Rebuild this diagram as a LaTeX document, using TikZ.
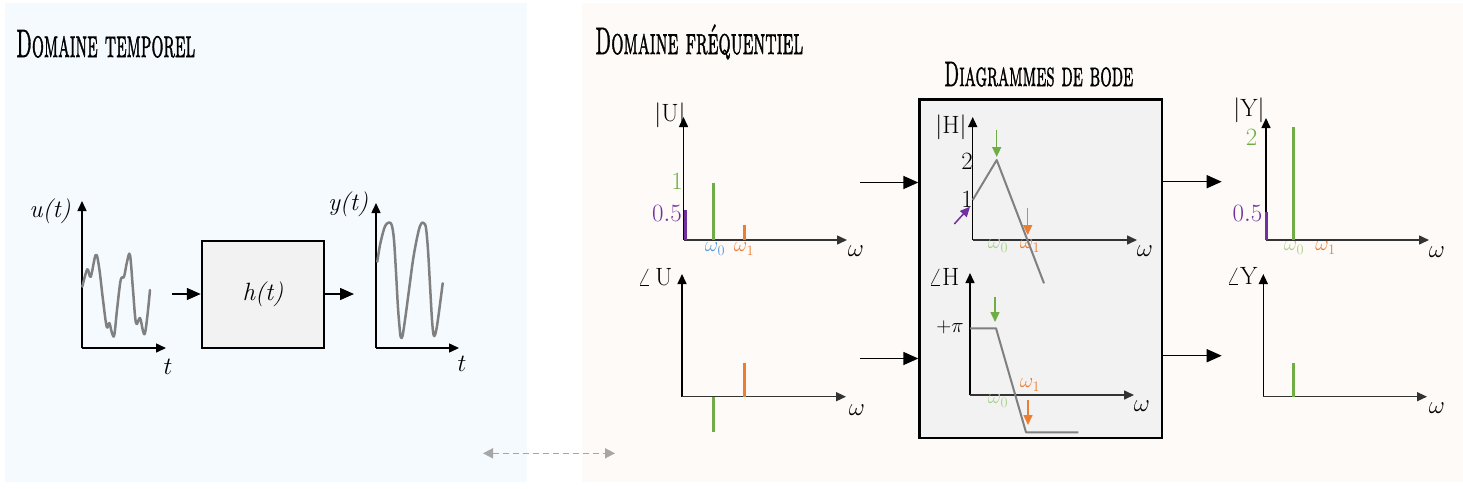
\documentclass[tikz,border=0pt]{standalone}
\usepackage{graphicx}
\usepackage{fontspec}
\newfontfamily\ttlfont[FakeBold=1.6]{lmromancaps10-regular.otf}
\usetikzlibrary{arrows.meta}
\definecolor{bgL}{HTML}{F5FAFE}
\definecolor{bgR}{HTML}{FEFAF7}
\definecolor{cgreen}{HTML}{70AD47}
\definecolor{corange}{HTML}{ED7D31}
\definecolor{cpurple}{HTML}{7030A0}
\definecolor{cblue}{HTML}{5B9BD5}
\definecolor{cfgreen}{HTML}{A9D18E}
\definecolor{ccurve}{HTML}{808080}
\definecolor{cbox}{HTML}{F2F2F2}
\definecolor{cdash}{HTML}{A6A6A6}
\begin{document}
\begin{tikzpicture}[x=1pt,y=-1pt,
  mylbl/.style={font=\fontsize{25}{29}\selectfont, inner sep=0pt},
  myslbl/.style={font=\fontsize{21}{25}\selectfont, inner sep=0pt},
  myax/.style={line width=1.5pt, -{Triangle[length=10pt,width=9pt]}},
  myxax/.style={myax, draw=black!80},
  mysig/.style={line width=2.5pt, draw=ccurve, line join=round, line cap=round},
  mybode/.style={line width=2pt, draw=ccurve, line join=round},
  myblock/.style={draw=black, line width=2.5pt, fill=cbox},
  myflow/.style={line width=1.5pt, -{Triangle[length=14pt,width=12pt]}},
  mybflow/.style={line width=1.5pt, -{Triangle[length=15pt,width=13pt]}},
  myspec/.style={line width=2.5pt},
  myhint/.style={line width=1.5pt, -{Triangle[length=10pt,width=9pt]}},
  myttl/.style={inner sep=0pt, anchor=base west, font=\ttlfont}
]
\useasboundingbox (0,0) rectangle (1463,488);
\fill[bgL] (5,3) rectangle (527,482);
\fill[bgR] (582,3) rectangle (1463,482);

% titles
\node[myttl] (t1) at (16,57) {\resizebox{179pt}{27pt}{Domaine temporel}};
\node[myttl] (t2) at (595,54) {\resizebox{208pt}{26pt}{\smash{Domaine fréquentiel}\vphantom{D}}};
\node[myttl] (t3) at (944,86) {\resizebox{189pt}{24pt}{Diagrammes de bode}};

% ---------- time domain ----------
\coordinate (uO) at (82,348);
\coordinate (uY) at (82,201);
\coordinate (uX) at (166,348);
\draw[myax] (uO) -- (uY);
\draw[myax] (uO) -- (uX);
\node[mylbl] (ulab) at (50,211) {\textit{u(t)}};
\node[mylbl] (ut) at (168,367) {$t$};
\draw[mysig] plot[smooth, tension=0.6] coordinates {
 (82.3,286.7) (87.3,269.3) (90.7,276.7) (95.7,255) (99,266.7) (103,300)
 (106.7,326.7) (109.3,323) (112,333) (114.3,335) (117,310) (120.7,280)
 (124,276.7) (127,262) (130,255) (133,290) (136,323) (140,318) (143,331)
 (145,333) (147.5,315) (150,290)};

\node[myblock, minimum width=122pt, minimum height=107pt, mylbl] (hbox) at (263,294.5) {\textit{h(t)}};
\coordinate (uin) at (172,294);
\coordinate (yout) at (354,294);
\draw[myflow] (uin) -- (uin -| hbox.west);
\draw[myflow] (yout -| hbox.east) -- (yout);

\coordinate (yO) at (376,348);
\coordinate (yY) at (376,203);
\coordinate (yX) at (459,348);
\draw[myax] (yO) -- (yY);
\draw[myax] (yO) -- (yX);
\node[mylbl] (ylab) at (348,204) {\textit{y(t)}};
\node[mylbl] (yt) at (462,364) {$t$};
\draw[mysig] plot[smooth, tension=0.55] coordinates {
 (377.3,261.7) (380,245) (384,229) (387,223.5) (390,222.7) (392,226) (394,240)
 (396,272) (398,308) (400,332) (401,337.5) (402.5,336) (405,320) (409,290)
 (413,260) (417,238) (420,226) (422.5,222.5) (424,223.3) (426,228) (428,250)
 (430,285) (432,320) (433.5,334.5) (435,335) (437,326) (439.5,308) (442.7,283.3)};

% ---------- frequency domain: input ----------
\coordinate (UO) at (683.5,240);
\draw[myax] (UO) -- (683.5,117);
\draw[myxax] (UO) -- (847,240);
\draw[myspec, cpurple, line width=3pt] (685,240) -- (685,210);
\draw[myspec, cgreen] (713.5,240) -- (713.5,183);
\draw[myspec, corange] (744.5,240) -- (744.5,225);
\node[mylbl] (Ulab) at (670,115) {$|\mathrm{U}|$};
\node[mylbl, text=cgreen] (U1) at (677,181.5) {$1$};
\node[mylbl, text=cpurple] (U05) at (667,213) {$0.5$};
\node[myslbl, text=cblue] (Uw0) at (715,249) {$\omega_0$};
\node[myslbl, text=corange] (Uw1) at (744,249) {$\omega_1$};
\node[mylbl] (Uw) at (856,251) {$\omega$};

\coordinate (AO) at (682,396.7);
\draw[myax] (AO) -- (682,274);
\draw[myxax] (AO) -- (846,396.7);
\draw[myspec, cgreen] (713.5,396.7) -- (713.5,432);
\draw[myspec, corange] (744.5,396.7) -- (744.5,363.3);
\node[mylbl] (Alab) at (655,277) {$\angle\,\mathrm{U}$};
\node[mylbl] (Aw) at (857,410) {$\omega$};

% ---------- Bode block ----------
\node[myblock, minimum width=242.5pt, minimum height=338.5pt] (bode) at (1040.8,268.8) {};
\coordinate (in1) at (860,182.5);
\coordinate (in2) at (860,358.5);
\coordinate (out1) at (1221.7,181.7);
\coordinate (out2) at (1221.7,355.7);
\draw[mybflow] (in1) -- (in1 -| bode.west);
\draw[mybflow] (in2) -- (in2 -| bode.west);
\draw[mybflow] (out1 -| bode.east) -- (out1);
\draw[mybflow] (out2 -| bode.east) -- (out2);

% |H|
\coordinate (HO) at (972.7,240);
\draw[myax] (HO) -- (972.7,117);
\draw[myxax] (HO) -- (1137,240);
\draw[mybode] (972.7,200) -- (996.7,160) -- (1044,283.3);
\node[mylbl] (Hlab) at (951,127) {$|\mathrm{H}|$};
\node[mylbl] (H2) at (967,161.5) {$2$};
\node[mylbl] (H1) at (967,199) {$1$};
\node[myslbl, text=cfgreen] (Hw0) at (998,246) {$\omega_0$};
\node[myslbl, text=corange] (Hw1) at (1030,246) {$\omega_1$};
\node[mylbl] (Hw) at (1145,251) {$\omega$};
\draw[myhint, cgreen] (996.7,130) -- (996.7,157);
\draw[myhint, cpurple] (954.3,224) -- (970,206.7);
\draw[myhint, corange] (1027.7,208.3) -- (1027.7,235);

% angle H
\coordinate (PO) at (970,395);
\draw[myax] (PO) -- (970,273);
\draw[myxax] (PO) -- (1134,395);
\draw[mybode] (970,328.3) -- (996,328.3) -- (1026,432.3) -- (1078.3,432.3);
\node[mylbl] (Plab) at (944,277) {$\angle\mathrm{H}$};
\node[mylbl] (Ppi) at (950,327) {\fontsize{21}{25}\selectfont$+\pi$};
\node[myslbl, text=corange] (Pw1) at (1030,385) {$\omega_1$};
\node[myslbl, text=cfgreen] (Pw0) at (998,401) {$\omega_0$};
\node[mylbl] (Pw) at (1142,406) {$\omega$};
\draw[myhint, cgreen] (995,296.7) -- (995,322);
\draw[myhint, corange] (1028,400) -- (1028,425);

% ---------- output ----------
\coordinate (YO) at (1266,240);
\draw[myax] (YO) -- (1266,118);
\draw[myxax] (YO) -- (1429,240);
\draw[myspec, cpurple, line width=3pt] (1266.5,240) -- (1266.5,211.7);
\draw[myspec, cgreen] (1293.3,240) -- (1293.3,126.7);
\node[mylbl] (Ylab) at (1249,110) {$|\mathrm{Y}|$};
\node[mylbl, text=cgreen] (Y2) at (1251.5,137) {$2$};
\node[mylbl, text=cpurple] (Y05) at (1247.5,213) {$0.5$};
\node[myslbl, text=cfgreen] (Yw0) at (1294,248) {$\omega_0$};
\node[myslbl, text=corange] (Yw1) at (1325.5,248) {$\omega_1$};
\node[mylbl] (Yw) at (1437,252) {$\omega$};

\coordinate (BO) at (1263.3,396.7);
\draw[myax] (BO) -- (1263.3,274);
\draw[myxax] (BO) -- (1427,396.7);
\draw[myspec, cgreen] (1293.3,396.7) -- (1293.3,363.3);
\node[mylbl] (Blab) at (1242,276) {$\angle\mathrm{Y}$};
\node[mylbl] (Bw) at (1437,408) {$\omega$};

% dashed link between domains
\coordinate (dA) at (483,453.3);
\coordinate (dB) at (615,453.3);
\draw[cdash, line width=1.5pt, dash pattern=on 6pt off 4pt,
  {Triangle[length=10pt,width=10pt]}-{Triangle[length=10pt,width=10pt]}] (dA) -- (dB);
\end{tikzpicture}
\end{document}
